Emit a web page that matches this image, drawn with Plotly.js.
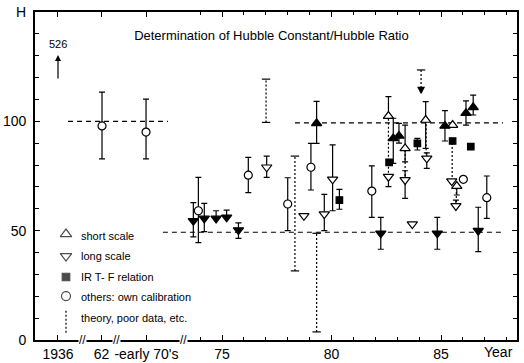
<!DOCTYPE html>
<html><head><meta charset="utf-8">
<script src="https://cdn.plot.ly/plotly-3.0.1.min.js"></script>
<style>html,body{margin:0;padding:0;background:#fff}#chart{width:524px;height:363px}</style>
</head><body><div id="chart"></div>
<script>
// ---------------- data (x in "year" units of the broken axis) ----------------
const tickLabels = ['1936', '62', "-early 70's", '75', '80', '85'];
const tickPos = [67.51, 69.5, 71.55, 75, 80, 85];
const hubble1936 = 526;
const hubble1936Pos = 67.51;

// open circles: others, own calibration
const othersX = [69.52, 71.53, 73.92, 76.2, 78.0, 79.06, 81.84, 86.02, 87.09];
const othersH = [97.9, 95.1, 59.1, 75.4, 62.2, 79.0, 68.1, 73.5, 65.1];
const othersUp = [15.5, 15.1, 15.3, 8.1, 12.0, 10.9, 11.5, 0, 9.9];
const othersDn = [15.1, 12.3, 14.6, 8.0, 12.2, 10.4, 12.0, 0, 9.5];

// open up-triangles: short scale
const shortX = [82.6, 83.36, 84.3, 85.53, 85.72];
const shortH = [102.4, 87.6, 100.6, 98.3, 70.4];
const shortUp = [8.9, 10.7, 8.4, 0, 0];
const shortDn = [0, 6.1, 13.0, 0, 4.1];

// open down-triangles: long scale
const longX = [77.04, 78.74, 79.67, 80.05, 82.6, 83.36, 83.69, 84.35, 85.49, 85.68];
const longH = [79.0, 56.8, 57.6, 73.5, 74.7, 73.2, 53.0, 83.1, 72.7, 61.3];
const longUp = [5.1, 0, 9.0, 15.7, 0, 4.2, 0, 2.5, 0, 2.7];
const longDn = [4.6, 0, 7.6, 14.4, 4.6, 8.4, 0, 4.6, 0, 0];

// filled up-triangles: IR T-F with short scale
const irShortX = [79.32, 82.82, 83.08, 85.18, 86.14, 86.47];
const irShortH = [99.1, 92.2, 93.3, 97.9, 103.7, 106.4];
const irShortUp = [10.0, 9.2, 5.8, 7.0, 5.7, 5.6];
const irShortDn = [9.2, 11.4, 3.3, 6.9, 5.4, 3.5];

// filled down-triangles: IR T-F with long scale
const irLongX = [73.69, 74.19, 74.73, 75.21, 75.75, 82.25, 84.83, 86.7];
const irLongH = [54.5, 55.6, 55.6, 56.1, 50.3, 48.8, 48.8, 50.0];
const irLongUp = [8.3, 6.9, 3.5, 3.3, 3.3, 7.3, 7.3, 10.7];
const irLongDn = [7.3, 6.0, 0, 0, 3.8, 7.3, 7.3, 9.6];

// filled squares: IR T-F relation
const irX = [80.36, 82.63, 83.92, 85.53, 86.36];
const irH = [64.0, 81.2, 89.9, 91.0, 88.4];
const irUp = [4.9, 0, 2.3, 0, 0];
const irDn = [4.2, 0, 3.0, 0, 0];

// dotted ranges: theory, poor data
const theoryX = [77.01, 78.33, 79.32];
const theoryLo = [99.5, 31.6, 3.7];
const theoryHi = [119.3, 84.1, 48.8];
const boundX = [84.09];
const boundHi = [123.5];
const boundLo = [112.8];

// dotted links joining two values from the same determination
const linkX = [82.6, 83.36, 84.32, 85.51, 85.70];
const linkHi = [102.4, 87.6, 100.6, 91.0, 70.4];
const linkLo = [74.7, 73.2, 83.1, 72.7, 61.3];

// dashed reference levels
const refH = [100, 99.3, 49.3];
const refFrom = [67.97, 78.33, 72.3];
const refTo = [72.53, 87.83, 87.83];

const breakPos = [68.65, 70.16, 73.22];

// ---------------- build ----------------
function vsegs(xs, lo, hi) {
  const x = [], y = [];
  xs.forEach((v, i) => { x.push(v, v, null); y.push(lo[i], hi[i], null); });
  return {x, y};
}
function hsegs(ys, a, b) {
  const x = [], y = [];
  ys.forEach((v, i) => { x.push(a[i], b[i], null); y.push(v, v, null); });
  return {x, y};
}
const K = 'black';
const traces = [];
const ref = hsegs(refH, refFrom, refTo);
traces.push({x: ref.x, y: ref.y, mode: 'lines', line: {color: K, width: 1.1, dash: '5px,4px'}, hoverinfo: 'skip'});
const lk = vsegs(linkX, linkLo, linkHi);
traces.push({x: lk.x, y: lk.y, mode: 'lines', line: {color: K, width: 1.2, dash: '2px,2px'}});
const th = vsegs(theoryX, theoryLo, theoryHi);
traces.push({x: th.x, y: th.y, mode: 'lines+markers', line: {color: K, width: 1.2, dash: '2px,2px'},
  marker: {symbol: 'line-ew', size: 6, line: {color: K, width: 1.2}}});
const bd = vsegs(boundX, boundHi, boundLo);
traces.push({x: bd.x, y: bd.y, mode: 'lines+markers', line: {color: K, width: 1.2, dash: '2px,2px'},
  marker: {symbol: bd.y.map((v, i) => i % 3 === 0 ? 'line-ew' : 'arrow-down'), size: 6, color: K, line: {color: K, width: 1.2}}});

function pts(x, y, up, dn, symbol, fill, size) {
  return {x, y, mode: 'markers', type: 'scatter',
    marker: {symbol, size, color: fill, line: {color: K, width: 1.2}},
    error_y: {type: 'data', symmetric: false, array: up, arrayminus: dn, color: K, thickness: 1.2, width: 3}};
}
traces.push(pts(othersX, othersH, othersUp, othersDn, 'circle', 'white', 8));
traces.push(pts(longX, longH, longUp, longDn, 'triangle-down', 'white', 9));
traces.push(pts(shortX, shortH, shortUp, shortDn, 'triangle-up', 'white', 9));
traces.push(pts(irLongX, irLongH, irLongUp, irLongDn, 'triangle-down', K, 9));
traces.push(pts(irShortX, irShortH, irShortUp, irShortDn, 'triangle-up', K, 9));
traces.push(pts(irX, irH, irUp, irDn, 'square', K, 6.5));

// legend glyphs (overlay axes in plot fractions)
const lgx = 0.0643;
traces.push({x: [lgx, lgx, lgx, lgx], y: [0.323, 0.256, 0.192, 0.134], xaxis: 'x2', yaxis: 'y2', mode: 'markers',
  marker: {symbol: ['triangle-up', 'triangle-down', 'square', 'circle'], size: [10, 10, 7.5, 9],
    color: ['white', 'white', K, 'white'], line: {color: K, width: 1.2}}});
traces.push({x: [lgx, lgx], y: [0.089, 0.020], xaxis: 'x2', yaxis: 'y2', mode: 'lines',
  line: {color: K, width: 1.2, dash: '2px,2px'}});

const legendText = ['short scale', 'long scale', 'IR T- F relation', 'others: own calibration', 'theory, poor data, etc.'];
const legendY = [0.317, 0.256, 0.192, 0.131, 0.067];
const FONT = 'Liberation Sans, Arial, sans-serif';
const ann = legendText.map((t, i) => ({xref: 'paper', yref: 'paper', x: 0.0913, y: legendY[i], xanchor: 'left', yanchor: 'middle',
  text: t, showarrow: false, font: {family: FONT, size: 11, color: K}}));
ann.push({xref: 'x', yref: 'y', x: hubble1936Pos, y: 130.3, ax: hubble1936Pos, ay: 118.9, axref: 'x', ayref: 'y',
  text: '', showarrow: true, arrowhead: 2, arrowsize: 1, arrowwidth: 1.2, arrowcolor: K});
ann.push({xref: 'x', yref: 'y', x: hubble1936Pos, y: 135.3, text: String(hubble1936), showarrow: false,
  font: {family: FONT, size: 11, color: K}, yanchor: 'middle'});
ann.push({xref: 'paper', yref: 'paper', x: -0.029, y: 1.0, text: 'H', showarrow: false, xanchor: 'center', yanchor: 'middle',
  font: {family: FONT, size: 14, color: K}});
ann.push({xref: 'paper', yref: 'paper', x: 0.961, y: -0.037, text: 'Year', showarrow: false, xanchor: 'center', yanchor: 'middle',
  font: {family: FONT, size: 14, color: K}});
breakPos.forEach(b => ann.push({xref: 'x', yref: 'y', x: b, y: 0, text: '//', showarrow: false, xanchor: 'center', yanchor: 'middle',
  bgcolor: 'white', borderpad: 0, font: {family: FONT, size: 12, color: K}}));

const minorYears = [];
for (let yr = 74; yr <= 88; yr++) if (yr % 5 !== 0) minorYears.push(yr);

const layout = {
  width: 524, height: 363,
  margin: {l: 35, r: 7, t: 12, b: 23},
  paper_bgcolor: 'white', plot_bgcolor: 'white',
  showlegend: false,
  font: {family: FONT, size: 14, color: K},
  title: {text: 'Determination of Hubble Constant/Hubble Ratio', x: 0.518, xanchor: 'center', y: 0.9036, yanchor: 'middle',
    font: {family: FONT, size: 13, color: K}},
  xaxis: {range: [66.46, 88.47], tickvals: tickPos, ticktext: tickLabels, ticks: 'inside', ticklen: 5, tickwidth: 1,
    tickcolor: K, showline: true, linecolor: K, linewidth: 1.8, mirror: 'ticks', showgrid: false, zeroline: false,
    tickfont: {family: FONT, size: 14, color: K},
    minor: {tickvals: minorYears, ticks: 'inside', ticklen: 3, tickcolor: K, showgrid: false}},
  yaxis: {range: [0, 150], tickvals: [0, 50, 100], ticks: 'inside', ticklen: 5, tickwidth: 1, tickcolor: K,
    showline: true, linecolor: K, linewidth: 1.8, mirror: 'ticks', showgrid: false, zeroline: false,
    ticklabelstandoff: 4, tickfont: {family: FONT, size: 14, color: K},
    minor: {dtick: 10, tick0: 0, ticks: 'inside', ticklen: 4, tickcolor: K, showgrid: false}},
  xaxis2: {overlaying: 'x', range: [0, 1], visible: false, anchor: 'y2'},
  yaxis2: {overlaying: 'y', range: [0, 1], visible: false, anchor: 'x2'},
  annotations: ann
};
Plotly.newPlot('chart', traces, layout, {staticPlot: true, displayModeBar: false});
</script></body></html>
